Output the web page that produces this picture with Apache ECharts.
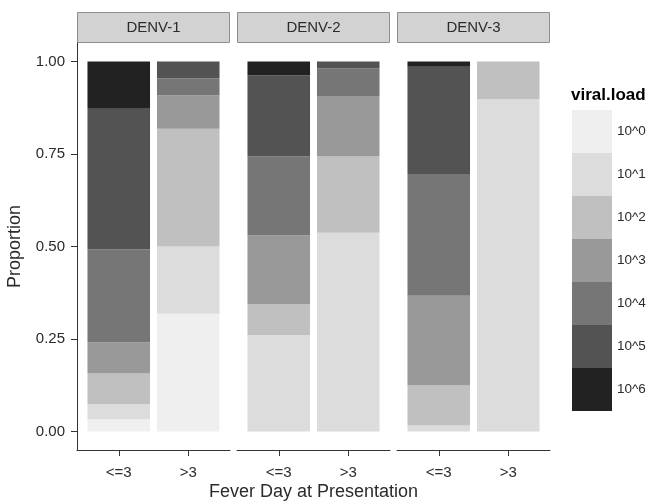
<!DOCTYPE html>
<html><head><meta charset="utf-8">
<script src="https://cdn.jsdelivr.net/npm/echarts@6/dist/echarts.min.js"></script>
<style>html,body{margin:0;padding:0;background:#fff}#c{width:652px;height:504px}</style>
</head><body><div id="c"></div>
<script>
// ---- data ----
const panels = ['DENV-1', 'DENV-2', 'DENV-3'];
const feverDays = ['<=3', '>3'];
const levels = ['10^0', '10^1', '10^2', '10^3', '10^4', '10^5', '10^6'];
const yTicks = [0, 0.25, 0.5, 0.75, 1];
// proportions per viral load level: [<=3, >3]
const denv1 = [
  [0.033, 0.318],
  [0.041, 0.182],
  [0.083, 0.318],
  [0.084, 0.091],
  [0.251, 0.045],
  [0.380, 0.046],
  [0.128, 0.000]
];
const denv2 = [
  [0.000, 0.000],
  [0.261, 0.537],
  [0.083, 0.206],
  [0.186, 0.164],
  [0.213, 0.075],
  [0.220, 0.018],
  [0.037, 0.000]
];
const denv3 = [
  [0.000, 0.000],
  [0.016, 0.898],
  [0.108, 0.102],
  [0.243, 0.000],
  [0.329, 0.000],
  [0.290, 0.000],
  [0.014, 0.000]
];
const panelData = [denv1, denv2, denv3];

// ---- style ----
const levelColors = ['#EFEFEF', '#DCDCDC', '#C0C0C0', '#999999', '#767676', '#535353', '#222222'];
const FONT = 'Liberation Sans, Arial, sans-serif';
const panelLeft = [77, 237, 397];
const panelWidth = 153;
const barAreaInset = 7;      // ggplot discrete expansion (0.6 units of 2.2)
const panelTop = 43;
const panelBottomY = 450;
const axisColor = '#333333';
const textColor = '#2b2b2b';

const grids = [], xAxes = [], yAxes = [], series = [], graphics = [];
panels.forEach((p, i) => {
  // frame grid: axis lines, y ticks, titles
  grids.push({ left: panelLeft[i], width: panelWidth, top: panelTop, bottom: 504 - panelBottomY,
    containLabel: false, outerBoundsMode: 'none' });
  xAxes.push({
    type: 'value', gridIndex: 2 * i, min: 0, max: 1,
    axisLine: { show: true, onZero: false, lineStyle: { color: axisColor, width: 1 } },
    axisTick: { show: false }, axisLabel: { show: false }, splitLine: { show: false },
    name: i === 1 ? 'Fever Day at Presentation' : '',
    nameLocation: 'middle', nameGap: 33,
    nameTextStyle: { fontSize: 18, color: textColor, fontFamily: FONT }
  });
  yAxes.push({
    type: 'value', gridIndex: 2 * i, min: -0.05, max: 1.05,
    show: i === 0,
    axisLine: { show: true, onZero: false, lineStyle: { color: axisColor, width: 1 } },
    axisTick: { show: true, customValues: yTicks, length: 6, lineStyle: { color: axisColor } },
    axisLabel: { show: true, customValues: yTicks, formatter: v => v.toFixed(2),
      color: textColor, fontSize: 15, fontFamily: FONT, margin: 12 },
    splitLine: { show: false },
    name: 'Proportion', nameLocation: 'middle', nameGap: 53,
    nameTextStyle: { fontSize: 18, color: textColor, fontFamily: FONT }
  });
  // bar grid
  grids.push({ left: panelLeft[i] + barAreaInset, width: panelWidth - 2 * barAreaInset, top: panelTop, bottom: 504 - panelBottomY,
    containLabel: false, outerBoundsMode: 'none' });
  xAxes.push({
    type: 'category', gridIndex: 2 * i + 1, data: feverDays,
    axisLine: { show: false, onZero: false },
    axisTick: { show: true, alignWithLabel: true, length: 6, lineStyle: { color: axisColor } },
    axisLabel: { color: textColor, fontSize: 15, fontFamily: FONT, margin: 15 },
    splitLine: { show: false }
  });
  yAxes.push({ type: 'value', gridIndex: 2 * i + 1, min: -0.05, max: 1.05, show: false, splitLine: { show: false } });
  levels.forEach((lv, l) => {
    series.push({
      type: 'bar', name: lv, xAxisIndex: 2 * i + 1, yAxisIndex: 2 * i + 1, stack: 'panel' + i,
      barWidth: '90%',
      data: panelData[i][l],
      itemStyle: { color: levelColors[l] },
      emphasis: { disabled: true },
      animation: false
    });
  });
  graphics.push({
    type: 'rect', shape: { x: panelLeft[i] + 0.5, y: 12.5, width: panelWidth - 1, height: 30 },
    style: { fill: '#D2D2D2', stroke: '#8E8E8E', lineWidth: 1 }
  });
  graphics.push({
    type: 'text', x: panelLeft[i] + panelWidth / 2, y: 28,
    style: { text: p, fill: textColor, fontSize: 15, fontFamily: FONT, align: 'center', verticalAlign: 'middle' }
  });
});
graphics.push({
  type: 'text', x: 571, y: 95,
  style: { text: 'viral.load', fill: '#000', fontSize: 17, fontWeight: 'bold', fontFamily: FONT, align: 'left', verticalAlign: 'middle' }
});

const chart = echarts.init(document.getElementById('c'), null, { renderer: 'canvas' });
chart.setOption({
  backgroundColor: '#ffffff',
  animation: false,
  grid: grids, xAxis: xAxes, yAxis: yAxes, series: series,
  legend: {
    data: levels, orient: 'vertical', left: 572, top: 110,
    itemWidth: 40, itemHeight: 43, itemGap: 0, icon: 'rect',
    selectedMode: false, padding: 0,
    textStyle: { color: textColor, fontSize: 13.5, fontFamily: FONT }
  },
  graphic: graphics
});
</script></body></html>
